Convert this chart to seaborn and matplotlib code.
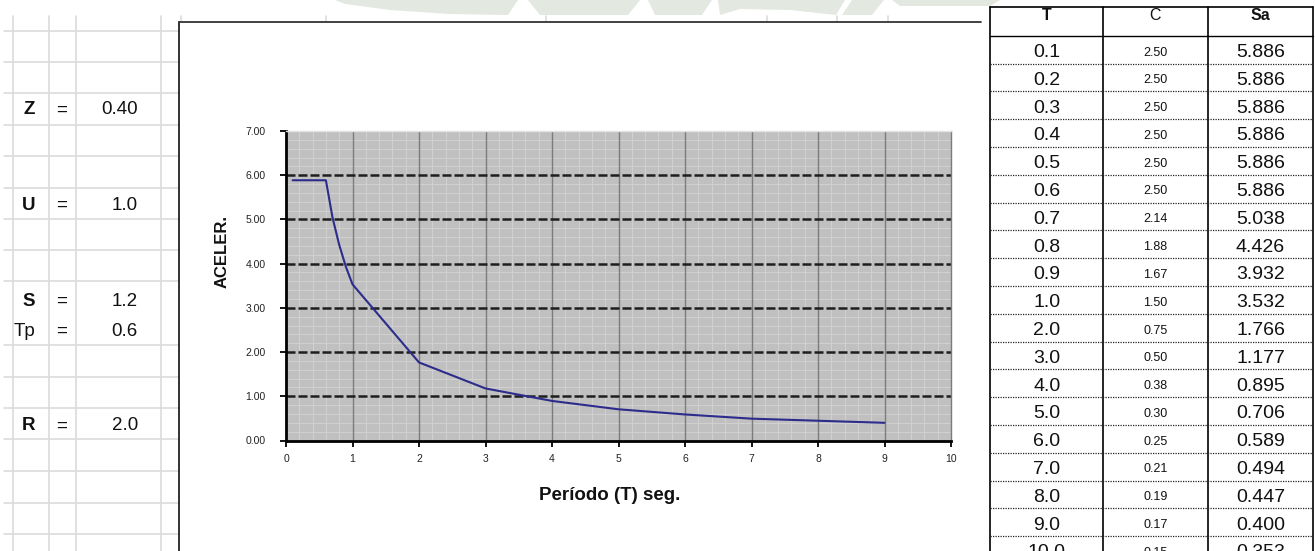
import matplotlib
matplotlib.use("Agg")
import matplotlib.pyplot as plt
from matplotlib.ticker import MultipleLocator, FormatStrFormatter
from matplotlib.patches import Polygon
import seaborn as sns
import pandas as pd

# Seismic design parameters
param_names = ["Z", "U", "S", "Tp", "R"]
param_values = ["0.40", "1.0", "1.2", "0.6", "2.0"]
param_bold = [True, True, True, False, True]

# Spectrum table: period, amplification factor, spectral acceleration
periods = [0.1, 0.2, 0.3, 0.4, 0.5, 0.6, 0.7, 0.8, 0.9, 1.0,
           2.0, 3.0, 4.0, 5.0, 6.0, 7.0, 8.0, 9.0, 10.0]
c_factor = [2.50, 2.50, 2.50, 2.50, 2.50, 2.50, 2.14, 1.88, 1.67, 1.50,
            0.75, 0.50, 0.38, 0.30, 0.25, 0.21, 0.19, 0.17, 0.15]
sa_values = [5.886, 5.886, 5.886, 5.886, 5.886, 5.886, 5.038, 4.426, 3.932, 3.532,
             1.766, 1.177, 0.895, 0.706, 0.589, 0.494, 0.447, 0.400, 0.353]
plot_max_period = 9.0

x_label = "Período (T) seg."
y_label = "ACELER."
table_header = ["T", "C", "Sa"]

sns.set_style("white")
plt.rcParams["font.family"] = ["Liberation Sans", "DejaVu Sans"]

W, H = 1315, 551
fig = plt.figure(figsize=(W / 100, H / 100), dpi=100)
fig.patch.set_facecolor("white")

# Full-figure layer in pixel units for the worksheet around the chart
sheet = fig.add_axes([0, 0, 1, 1])
sheet.set_xlim(0, W)
sheet.set_ylim(H, 0)
sheet.axis("off")

# faint watermark along the top edge
wm_color = "#e3e8e1"
for pts in [
    [(335, 0), (518, 0), (508, 15), (450, 14), (390, 10), (345, 4)],
    [(528, 0), (640, 0), (628, 15), (540, 15)],
    [(648, 0), (712, 0), (702, 15), (655, 15)],
    [(718, 0), (845, 0), (836, 15), (790, 10), (740, 9), (720, 15)],
    [(852, 0), (884, 0), (872, 15), (842, 15)],
    [(892, 0), (1000, 0), (990, 6), (900, 6)],
]:
    sheet.add_patch(Polygon(pts, closed=True, facecolor=wm_color, edgecolor="none", zorder=0))

grid_c = "#dcdcdc"
for gx in [12.7, 49, 76, 161]:
    sheet.plot([gx, gx], [16, H], color=grid_c, lw=1.2, zorder=1)
for gy in [30.6, 61.5, 93.1, 124.7, 156.4, 188, 218.6, 250.2, 281.1,
           345.4, 376.7, 407.6, 439.2, 470.8, 502.5, 534.1]:
    sheet.plot([4, 179], [gy, gy], color=grid_c, lw=1.2, zorder=1)
for gx in [181, 326, 546, 767, 837, 888]:
    sheet.plot([gx, gx], [16, 21], color=grid_c, lw=1.2, zorder=1)

# parameter block
label_y = [110, 205, 301, 331, 426]
for name, val, bold, yy in zip(param_names, param_values, param_bold, label_y):
    sheet.text(35, yy, name, ha="right", va="center", fontsize=13.5,
               fontweight="bold" if bold else "normal", color="#111")
    sheet.text(62, yy, "=", ha="center", va="center", fontsize=13.5, color="#111")
    sheet.text(138, yy, val, ha="right", va="center", fontsize=13.5, color="#111")

# chart frame
sheet.plot([179, 179], [21.5, H], color="#222", lw=1.3, zorder=3)
sheet.plot([179, 981], [21.5, 21.5], color="#333", lw=1.3, zorder=3)

# spectrum table
col_x = [990.5, 1103, 1208, 1313]
t_top, head_bot, row_h = 7, 35.7, 27.8
for cx in col_x:
    sheet.plot([cx, cx], [t_top, H], color="black", lw=1.2, zorder=3)
sheet.plot([col_x[0], col_x[-1]], [t_top, t_top], color="black", lw=1.2, zorder=3)
sheet.plot([col_x[0], col_x[-1]], [head_bot, head_bot], color="black", lw=1.0, zorder=3)
centers = [(col_x[i] + col_x[i + 1]) / 2 for i in range(3)]
for txt, cx, bold in zip(table_header, centers, [True, False, True]):
    sheet.text(cx, 20.5, txt, ha="center", va="baseline", fontsize=11.5,
               fontweight="bold" if bold else "normal", color="#111")
for i, (t, c, s) in enumerate(zip(periods, c_factor, sa_values)):
    bot = head_bot + (i + 1) * row_h
    if bot < H:
        sheet.plot([col_x[0], col_x[-1]], [bot, bot], color="#222", lw=0.9,
                   ls=(0, (1, 1)), zorder=3)
    sheet.text(centers[0], bot - 6.5, f"{t:.1f}", ha="center", va="baseline",
               fontsize=14, color="#111")
    sheet.text(centers[1], bot - 8, f"{c:.2f}", ha="center", va="baseline",
               fontsize=9, color="#111")
    sheet.text(centers[2], bot - 6.5, f"{s:.3f}", ha="center", va="baseline",
               fontsize=14, color="#111")

# acceleration spectrum chart
ax = fig.add_axes([286 / W, (H - 440.5) / H, 665 / W, 309.5 / H])
ax.set_facecolor("#c0c0c0")
ax.set_xlim(0, 10)
ax.set_ylim(0, 7)
ax.set_axisbelow(True)
ax.xaxis.set_major_locator(MultipleLocator(1))
ax.yaxis.set_major_locator(MultipleLocator(1))
ax.xaxis.set_minor_locator(MultipleLocator(0.2))
ax.yaxis.set_minor_locator(MultipleLocator(0.2))
ax.yaxis.set_major_formatter(FormatStrFormatter("%.2f"))
ax.grid(which="minor", color="#d0d0d0", lw=0.8)
ax.grid(which="major", visible=False)
ax.vlines(range(1, 10), 0, 7, colors="#7c7c7c", lw=1.0, zorder=1.2)
ax.hlines(range(1, 7), 0, 10, colors="#1e1e1e", lw=1.8, linestyles=[(0, (3.6, 1.2))], zorder=1.5)

df = pd.DataFrame({"T": periods, "Sa": sa_values})
df = df[df["T"] <= plot_max_period]
sns.lineplot(data=df, x="T", y="Sa", ax=ax, color="#2c2c8c", lw=1.5, zorder=3)

for side in ["left", "bottom"]:
    ax.spines[side].set_color("black")
    ax.spines[side].set_linewidth(2)
ax.spines["top"].set_color("#e2e2e2")
ax.spines["top"].set_linewidth(1)
ax.spines["right"].set_color("#7c7c7c")
ax.spines["right"].set_linewidth(1)
ax.spines["right"].set_visible(True)
ax.spines["top"].set_visible(True)

ax.tick_params(which="major", direction="out", length=4, width=1.3, color="black",
               labelsize=7.5, labelcolor="#222")
ax.tick_params(axis="y", pad=10.5)
ax.tick_params(axis="x", pad=5.5)
ax.tick_params(which="minor", length=0)
ax.tick_params(left=True, bottom=True)

ax.set_xlabel(x_label, fontsize=13.5, fontweight="bold", color="#111")
ax.set_ylabel(y_label, fontsize=12, fontweight="bold", color="#111")
ax.xaxis.set_label_coords((610 - 286) / 665, (440.5 - 487) / 309.5)
ax.yaxis.set_label_coords((230 - 286) / 665, (440.5 - 252) / 309.5)

fig.savefig("out.png", dpi=100, facecolor="white")
